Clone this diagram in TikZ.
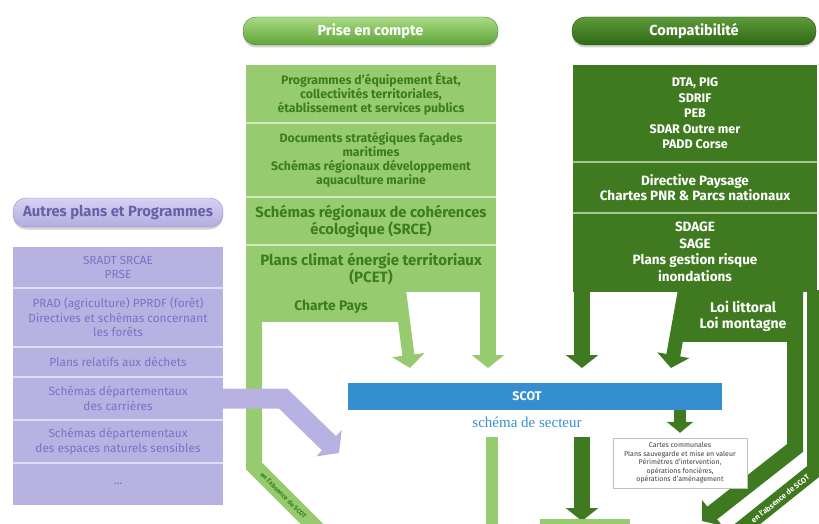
\documentclass[tikz,border=0pt]{standalone}
\usepackage{fontspec}
\setmainfont{Fira Sans}
\newfontfamily\serifface{Liberation Serif}
\usepackage{tikz}
\usetikzlibrary{arrows.meta,shadows}

\definecolor{lgfill}{HTML}{96CB70}
\definecolor{lgtop}{HTML}{A9DA85}
\definecolor{lgbot}{HTML}{5FA537}
\definecolor{lgtext}{HTML}{3C7E1B}
\definecolor{lgline}{HTML}{D2EBC0}
\definecolor{dkfill}{HTML}{3F7A20}
\definecolor{dktop}{HTML}{5E9B3A}
\definecolor{dkbot}{HTML}{2E6714}
\definecolor{dkline}{HTML}{A6C794}
\definecolor{pufill}{HTML}{B8B2E2}
\definecolor{putop}{HTML}{D6D2F4}
\definecolor{pubot}{HTML}{B3ACDF}
\definecolor{putext}{HTML}{7A72C4}
\definecolor{puline}{HTML}{E0DDF6}
\definecolor{scotblue}{HTML}{358ED0}

\begin{document}
\begin{tikzpicture}[x=1pt, y=-1pt,
  pill/.style={draw, rounded corners=13pt, minimum height=28pt, inner sep=0pt,
    font=\bfseries\fontsize{14.5}{16}\selectfont, text=white,
    drop shadow={shadow xshift=0pt, shadow yshift=-2.5pt, opacity=0.35}},
  lgsec/.style={fill=lgfill, text=lgtext, align=center, inner sep=0pt,
    minimum width=250pt, font=\bfseries\fontsize{12.3}{14}\selectfont},
  dksec/.style={fill=dkfill, text=white, align=center, inner sep=0pt,
    minimum width=244pt, font=\bfseries\fontsize{12.5}{15.5}\selectfont},
  pusec/.style={fill=pufill, text=putext, align=center, inner sep=0pt,
    minimum width=210pt, font=\fontsize{11.8}{14.5}\selectfont},
  sepl/.style={line width=1.5pt},
  band/.style={line width=16pt},
  bandtip/.style={-{Triangle[width=32pt,length=13pt]}}
]
  \useasboundingbox (0,0) rectangle (819,524);
  \clip (0,0) rectangle (819,524);

  \node[pill, minimum width=255pt, draw=lgbot!80!black, top color=lgtop, bottom color=lgbot] (prise) at (370.5,31) {Prise en compte};
  \node[pill, minimum width=244pt, draw=dkbot!80!black, top color=dktop, bottom color=dkbot] (compat) at (694,31) {Compatibilité};
  \node[pill, minimum width=210pt, minimum height=29pt, draw=putext!80, top color=putop, bottom color=pubot, text=putext!85!black, font=\bfseries\fontsize{14.8}{16}\selectfont] (autres) at (118,212.5) {Autres plans et Programmes};

  \node[lgsec, minimum height=58pt] (prog) at (371,94) {Programmes d'équipement État,\\collectivités territoriales,\\établissement et services publics};
  \node[lgsec, minimum height=74pt] (docs) at (371,160) {Documents stratégiques façades\\maritimes\\Schémas régionaux développement\\aquaculture marine};
  \node[lgsec, minimum height=48pt, font=\bfseries\fontsize{14.8}{17}\selectfont] (srce) at (371,221) {Schémas régionaux de cohérences\\écologique (SRCE)};
  \node[lgsec, minimum height=47pt, font=\bfseries\fontsize{15}{17}\selectfont] (pcet) at (371,268.5) {Plans climat énergie territoriaux\\(PCET)};
  \draw[sepl, lgline] (prog.south west) -- (prog.south east);
  \draw[sepl, lgline] (docs.south west) -- (docs.south east);
  \draw[sepl, lgline] (srce.south west) -- (srce.south east);

  \node[dksec, minimum height=97pt] (dta) at (695,113.5) {DTA, PIG\\SDRIF\\PEB\\SDAR Outre mer\\PADD Corse};
  \node[dksec, minimum height=50pt, font=\bfseries\fontsize{13.5}{15}\selectfont] (dirp) at (695,188) {Directive Paysage\\Chartes PNR \& Parcs nationaux};
  \node[dksec, minimum height=80pt, font=\bfseries\fontsize{13.5}{16.5}\selectfont] (sdage) at (695,252) {SDAGE\\SAGE\\Plans gestion risque\\inondations};
  \draw[sepl, dkline] (dta.south west) -- (dta.south east);
  \draw[sepl, dkline] (dirp.south west) -- (dirp.south east);

  \node[pusec, minimum height=41pt] (sradt) at (118,267.5) {SRADT SRCAE\\PRSE};
  \node[pusec, minimum height=59pt] (prad) at (118,317.5) {PRAD (agriculture) PPRDF (forêt)\\Directives et schémas concernant\\les forêts};
  \node[pusec, minimum height=30pt] (dech) at (118,362) {Plans relatifs aux déchets};
  \node[pusec, minimum height=43pt] (carr) at (118,398.5) {Schémas départementaux\\des carrières};
  \node[pusec, minimum height=43pt] (ens) at (118,441.5) {Schémas départementaux\\des espaces naturels sensibles};
  \node[pusec, minimum height=42pt] (etc) at (118,484) {...};
  \draw[sepl, puline] (sradt.south west) -- (sradt.south east);
  \draw[sepl, puline] (prad.south west) -- (prad.south east);
  \draw[sepl, puline] (dech.south west) -- (dech.south east);
  \draw[sepl, puline] (carr.south west) -- (carr.south east);
  \draw[sepl, puline] (ens.south west) -- (ens.south east);

  \coordinate (lgtopL) at (254,290);
  \coordinate (lgbendL) at (254,466);
  \coordinate (lgendL) at (340,552);
  \coordinate (lgtopR) at (488,290);
  \coordinate (lgtipR) at (488,368);
  \coordinate (chartetop) at (400,290);
  \coordinate (chartetip) at (410,368);
  \draw[band, lgfill] (lgtopL) -- (lgbendL) -- (lgendL);
  \node[lgsec, minimum width=138pt, minimum height=30pt, font=\bfseries\fontsize{13.8}{15}\selectfont] (charte) at (331,307) {Charte Pays};
  \draw[band, line width=12pt, lgfill, bandtip] (chartetop) -- (chartetip);
  \draw[band, lgfill, bandtip] (lgtopR) -- (lgtipR);
  \node[rotate=-45, anchor=west, text=lgtext, font=\bfseries\fontsize{6.5}{7}\selectfont] (absL) at (259,471) {en l'absence de SCOT};

  \coordinate (dktopL) at (582,290);
  \coordinate (dktipL) at (582,368);
  \coordinate (loitop) at (685,290);
  \coordinate (loitip) at (671,368);
  \coordinate (loiR) at (795,290);
  \coordinate (loibend) at (795,448);
  \coordinate (loiend) at (702,521);
  \coordinate (dktopR) at (815,290);
  \coordinate (dkbendR) at (815,470);
  \coordinate (dkendR) at (715,550);
  \draw[band, dkfill, bandtip] (dktopL) -- (dktipL);
  \node[dksec, minimum width=120pt, minimum height=50pt, font=\bfseries\fontsize{14}{15.5}\selectfont] (loi) at (743,316.5) {Loi littoral\\Loi montagne};
  \draw[band, line width=14pt, dkfill, bandtip] (loitop) -- (loitip);
  \draw[band, dkfill, bandtip] (loiR) -- (loibend) -- (loiend);
  \draw[band, dkfill] (dktopR) -- (dkbendR) -- (dkendR);
  \node[rotate=38.7, anchor=east, text=white, font=\bfseries\fontsize{7.5}{8}\selectfont] (absR) at (811,474) {en l'absence de SCOT};

  \coordinate (pubend) at (283,398.5);
  \coordinate (putip) at (339,453);
  \draw[line width=20pt, pufill, -{Triangle[width=36pt,length=14pt]}] (carr.east) -- (pubend) -- (putip);

  \node[fill=scotblue, minimum width=374pt, minimum height=27pt, inner sep=0pt] (scot) at (535,396) {};
  \node[text=white, font=\bfseries\fontsize{12.5}{14}\selectfont] (scottxt) at (527,396) {SCOT};
  \node[text=scotblue, font=\serifface\fontsize{15}{17}\selectfont] (sect) at (527,422) {schéma de secteur};

  \node[draw=gray!50, fill=white, align=center, inner sep=0pt, minimum width=134pt, minimum height=50pt, text=black!75, font=\fontsize{7}{8.5}\selectfont] (comm) at (680,463) {Cartes communales\\Plans sauvegarde et mise en valeur\\Périmètres d'intervention,\\opérations foncières,\\opérations d'aménagement};
  \draw[line width=12pt, dkfill, -{Triangle[width=26pt,length=11pt]}, shorten >=5pt] (scot.south -| comm.north) -- (comm.north);

  \coordinate (lgshafttop) at (492,437);
  \coordinate (lgshaftend) at (492,540);
  \coordinate (dkshafttop) at (582,437);
  \coordinate (dkshafttip) at (582,521);
  \draw[line width=12pt, lgfill] (lgshafttop) -- (lgshaftend);
  \draw[band, dkfill, bandtip] (dkshafttop) -- (dkshafttip);
  \node[fill=lgfill, minimum width=90pt, minimum height=14pt, inner sep=0pt] (plu) at (585,526) {};
\end{tikzpicture}
\end{document}
